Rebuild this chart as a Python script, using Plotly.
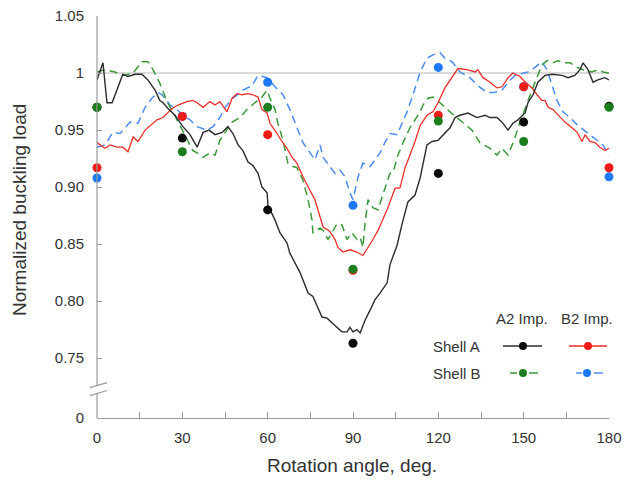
import plotly.graph_objects as go

# ---------------- data ----------------
POINT_ANGLES = [0, 30, 60, 90, 120, 150, 180]
PTS_A_A2 = [0.970, 0.943, 0.880, 0.763, 0.912, 0.957, 0.971]
PTS_A_B2 = [0.917, 0.962, 0.946, 0.827, 0.963, 0.988, 0.917]
PTS_B_A2 = [0.970, 0.931, 0.970, 0.828, 0.958, 0.940, 0.970]
PTS_B_B2 = [0.908, 0.962, 0.992, 0.884, 1.005, 0.988, 0.909]

A_A2_ANG = [0, 2.1, 3.5, 5.3, 9.1, 10.9, 13.4, 15.8, 17.9, 20.4, 22.1, 23.2, 25.0, 27.4, 30.2, 32.7,
            35.2, 37.3, 39.4, 41.5, 44.0, 46.0, 47.8, 49.6, 51.3, 53.1, 54.8, 56.6, 58.0, 59.8, 60.1,
            62.6, 64.3, 66.8, 67.8, 70.3, 71.4, 74.2, 75.9, 79.1, 80.9, 82.6, 86.1, 87.9, 88.9, 90.0,
            91.4, 92.5, 94.2, 96.0, 97.7, 99.5, 102.0, 103.0, 105.5, 107.2, 109.3, 111.8, 113.6, 116.0,
            117.8, 119.9, 122.3, 124.1, 125.9, 127.6, 130.4, 133.6, 136.4, 138.2, 140.6, 142.4, 144.5,
            146.2, 148.0, 150.5, 151.5, 153.3, 155.0, 157.5, 160.0, 163.5, 165.6, 168.0, 169.8, 170.9,
            172.6, 174.4, 176.1, 178.6, 180.0]
A_A2_VAL = [0.994, 1.009, 0.974, 0.974, 0.999, 0.997, 0.999, 0.999, 0.994, 0.985, 0.976, 0.974, 0.969,
            0.963, 0.953, 0.946, 0.935, 0.948, 0.950, 0.946, 0.948, 0.953, 0.947, 0.937, 0.932, 0.922,
            0.919, 0.912, 0.900, 0.895, 0.884, 0.871, 0.860, 0.851, 0.842, 0.830, 0.825, 0.807, 0.804,
            0.786, 0.785, 0.781, 0.773, 0.773, 0.777, 0.773, 0.775, 0.772, 0.783, 0.792, 0.801, 0.807,
            0.816, 0.832, 0.849, 0.867, 0.887, 0.893, 0.908, 0.937, 0.940, 0.941, 0.947, 0.952, 0.961,
            0.963, 0.965, 0.961, 0.963, 0.961, 0.961, 0.957, 0.950, 0.956, 0.959, 0.965, 0.974, 0.981,
            0.992, 0.998, 0.999, 0.998, 0.996, 0.998, 1.003, 1.009, 1.003, 0.992, 0.994, 0.996, 0.994]

A_B2_ANG = [0, 1.05, 2.8, 4.6, 7.0, 9.1, 10.9, 12.7, 14.4, 16.9, 18.6, 21.1, 23.2, 26.4, 28.5, 31.6,
            33.7, 35.2, 37.3, 39.7, 41.5, 43.2, 45.7, 47.5, 49.2, 51.0, 53.1, 54.8, 56.6, 58.0, 59.8,
            60.8, 63.3, 65.0, 66.8, 68.6, 70.3, 72.4, 74.9, 76.6, 78.4, 79.5, 81.9, 83.7, 84.7, 86.5,
            88.9, 91.4, 93.5, 95.3, 97.0, 98.8, 100.5, 102.3, 103.0, 104.8, 106.5, 108.3, 110.0, 111.8,
            113.6, 116.0, 118.1, 119.9, 122.3, 124.8, 126.9, 130.1, 132.9, 133.9, 135.7, 138.2, 140.6,
            142.4, 144.5, 146.2, 148.7, 149.8, 151.2, 152.9, 154.7, 156.4, 157.5, 158.6, 160.3, 162.1,
            164.5, 167.0, 168.8, 170.5, 171.6, 173.3, 175.1, 176.8, 178.6, 180.0]
A_B2_VAL = [0.939, 0.937, 0.934, 0.937, 0.935, 0.935, 0.931, 0.944, 0.940, 0.950, 0.954, 0.959, 0.961,
            0.969, 0.972, 0.975, 0.976, 0.974, 0.970, 0.975, 0.972, 0.975, 0.966, 0.978, 0.982, 0.981,
            0.982, 0.981, 0.979, 0.968, 0.965, 0.956, 0.947, 0.940, 0.934, 0.926, 0.921, 0.909, 0.897,
            0.889, 0.874, 0.865, 0.861, 0.854, 0.847, 0.843, 0.845, 0.843, 0.840, 0.847, 0.854, 0.862,
            0.871, 0.882, 0.887, 0.899, 0.899, 0.917, 0.928, 0.940, 0.954, 0.963, 0.966, 0.974, 0.987,
            0.996, 1.004, 1.003, 1.001, 1.003, 0.996, 0.992, 0.987, 0.988, 0.996, 1.000, 0.997, 0.994,
            0.991, 0.987, 0.981, 0.976, 0.976, 0.970, 0.968, 0.963, 0.957, 0.952, 0.948, 0.940, 0.946,
            0.940, 0.939, 0.935, 0.932, 0.934]

B_A2_ANG = [0, 2.8, 6.3, 9.1, 12.7, 15.8, 17.9, 19.7, 22.1, 24.6, 26.7, 29.2, 31.6, 33.7, 35.2, 37.3,
            39.7, 41.5, 43.2, 45.0, 47.5, 50.3, 52.7, 55.5, 58.0, 59.8, 60.8, 62.6, 63.6, 65.4, 67.1,
            68.9, 70.3, 72.4, 74.2, 75.6, 75.9, 78.4, 79.5, 81.2, 84.4, 86.1, 87.9, 89.6, 91.4, 92.5,
            93.5, 94.2, 95.3, 97.0, 98.8, 100.2, 102.0, 103.0, 104.1, 105.8, 107.6, 110.0, 111.8, 113.6,
            114.6, 116.4, 118.1, 120.6, 124.1, 128.3, 131.8, 134.6, 138.2, 140.6, 142.4, 144.5, 146.9,
            148.7, 150.5, 152.2, 154.0, 156.4, 158.2, 160.3, 162.1, 163.8, 166.3, 168.8, 170.9, 174.0,
            176.1, 177.9, 180.0]
B_A2_VAL = [1.001, 1.003, 1.001, 0.998, 1.000, 1.010, 1.010, 1.003, 0.991, 0.975, 0.966, 0.954, 0.943,
            0.932, 0.930, 0.926, 0.930, 0.928, 0.941, 0.948, 0.957, 0.961, 0.968, 0.974, 0.979, 0.985,
            0.978, 0.968, 0.956, 0.941, 0.921, 0.918, 0.917, 0.906, 0.889, 0.871, 0.860, 0.864, 0.862,
            0.854, 0.868, 0.867, 0.854, 0.860, 0.854, 0.856, 0.847, 0.868, 0.889, 0.882, 0.880, 0.891,
            0.904, 0.912, 0.913, 0.928, 0.939, 0.952, 0.959, 0.966, 0.972, 0.978, 0.979, 0.974, 0.966,
            0.957, 0.950, 0.939, 0.934, 0.928, 0.934, 0.928, 0.943, 0.957, 0.969, 0.981, 0.992, 1.007,
            1.011, 1.009, 1.011, 1.009, 1.009, 1.005, 1.003, 1.001, 1.003, 1.001, 1.000]

B_B2_ANG = [0, 2.8, 5.6, 8.1, 11.6, 14.4, 16.9, 19.3, 21.4, 22.9, 25.7, 28.1, 30.2, 32.7, 35.2, 38.7,
            40.8, 43.2, 45.0, 47.8, 51.3, 54.5, 56.6, 58.4, 59.8, 62.6, 65.4, 67.8, 70.3, 72.4, 74.9,
            76.6, 78.4, 79.5, 81.9, 83.7, 85.4, 87.2, 88.9, 90.0, 91.8, 93.5, 96.0, 97.7, 99.5, 101.2,
            103.0, 105.5, 106.5, 109.0, 111.1, 113.6, 116.0, 118.1, 120.6, 122.3, 124.8, 127.6, 131.1,
            133.9, 137.1, 139.9, 142.4, 144.5, 146.9, 149.4, 151.5, 154.0, 156.4, 158.2, 160.0, 161.7,
            163.8, 166.3, 169.1, 172.3, 175.1, 177.9, 180.0]
B_B2_VAL = [0.935, 0.937, 0.948, 0.947, 0.957, 0.956, 0.970, 0.978, 0.983, 0.981, 0.972, 0.968, 0.963,
            0.959, 0.953, 0.950, 0.953, 0.961, 0.970, 0.978, 0.985, 0.989, 0.998, 0.997, 0.996, 0.988,
            0.981, 0.968, 0.953, 0.939, 0.930, 0.924, 0.937, 0.926, 0.918, 0.912, 0.915, 0.909, 0.895,
            0.889, 0.909, 0.921, 0.918, 0.924, 0.930, 0.939, 0.947, 0.946, 0.952, 0.966, 0.981, 1.001,
            1.013, 1.016, 1.018, 1.013, 1.010, 1.001, 0.996, 0.989, 0.983, 0.983, 0.985, 0.992, 0.998,
            1.000, 1.001, 1.005, 1.010, 1.003, 0.989, 0.976, 0.966, 0.961, 0.954, 0.948, 0.943, 0.937,
            0.928]

X_TICKS = [0, 15, 30, 45, 60, 75, 90, 105, 120, 135, 150, 165, 180]
X_TICK_TEXT = ["0", "", "30", "", "60", "", "90", "", "120", "", "150", "", "180"]
Y_TICKS = [0.75, 0.80, 0.85, 0.90, 0.95, 1.0, 1.05]
Y_TICK_TEXT = ["0.75", "0.80", "0.85", "0.90", "0.95", "1", "1.05"]
REF_LEVEL = 1.0

# ---------------- style / layout constants ----------------
Y_FLOOR = 0.6974        # axis floor (broken axis, labelled "0")
Y_TOP = 1.05
BREAK_HI = 0.7263
BREAK_LO = 0.7193
FONT = "Liberation Sans, Arial, Helvetica, sans-serif"
TXT = "#333333"
AXC = "#9a9a9a"

C_BLACK_L, C_BLACK_P = "#2b2b2b", "#0a0a0a"
C_RED_L, C_RED_P = "#e8302a", "#f01a16"
C_GREEN_L, C_GREEN_P = "#3a9a3a", "#1b7d1b"
C_BLUE_L, C_BLUE_P = "#4b8cf0", "#1d78fb"

# page body has an 8px margin, so the figure is sized/offset to compensate
PAGE_OFF = 8
FIG_W, FIG_H = 632 - PAGE_OFF, 482 - PAGE_OFF
M_L, M_R, M_T, M_B = 97 - PAGE_OFF, 23, 16 - PAGE_OFF, 64

fig = go.Figure()

# lines
fig.add_trace(go.Scatter(x=B_B2_ANG, y=B_B2_VAL, mode="lines",
                         line=dict(color=C_BLUE_L, width=1.5, dash="8px,5px"), hoverinfo="skip"))
fig.add_trace(go.Scatter(x=B_A2_ANG, y=B_A2_VAL, mode="lines",
                         line=dict(color=C_GREEN_L, width=1.5, dash="8px,5px"), hoverinfo="skip"))
fig.add_trace(go.Scatter(x=A_B2_ANG, y=A_B2_VAL, mode="lines",
                         line=dict(color=C_RED_L, width=1.3), hoverinfo="skip"))
fig.add_trace(go.Scatter(x=A_A2_ANG, y=A_A2_VAL, mode="lines",
                         line=dict(color=C_BLACK_L, width=1.4), hoverinfo="skip"))

# points
for vals, col in [(PTS_B_B2, C_BLUE_P), (PTS_A_A2, C_BLACK_P), (PTS_A_B2, C_RED_P), (PTS_B_A2, C_GREEN_P)]:
    fig.add_trace(go.Scatter(x=POINT_ANGLES, y=vals, mode="markers", cliponaxis=False,
                             marker=dict(color=col, size=9, line=dict(width=0))))

shapes = []
# reference line at 1
shapes.append(dict(type="line", xref="paper", yref="y", x0=0, x1=1, y0=REF_LEVEL, y1=REF_LEVEL,
                   line=dict(color="#cfcfcf", width=1.5), layer="below"))
# broken y-axis line
shapes.append(dict(type="line", xref="paper", yref="y", x0=0, x1=0, y0=BREAK_HI, y1=Y_TOP,
                   line=dict(color=AXC, width=1.2)))
shapes.append(dict(type="line", xref="paper", yref="y", x0=0, x1=0, y0=Y_FLOOR, y1=BREAK_LO,
                   line=dict(color=AXC, width=1.2)))
for yc in (BREAK_HI, BREAK_LO):
    shapes.append(dict(type="line", xref="paper", yref="y", x0=-0.0137, x1=0.0195,
                       y0=yc - 0.0022, y1=yc + 0.0022, line=dict(color=AXC, width=1.2)))

# legend (custom table), positions given in target-image pixels
def px_x(p):
    return (p - 97) / 512.0

def px_y(p):
    return (418 - p) / 402.0

ROW_A, ROW_B, ROW_H = 346, 373, 318

def seg(x0, x1, y, col, w=1.4):
    shapes.append(dict(type="line", xref="paper", yref="paper", x0=px_x(x0), x1=px_x(x1),
                       y0=px_y(y), y1=px_y(y), line=dict(color=col, width=w)))

def dot(x, y, col, r=4):
    shapes.append(dict(type="circle", xref="paper", yref="paper", xsizemode="pixel", ysizemode="pixel",
                       xanchor=px_x(x), yanchor=px_y(y), x0=-r, x1=r, y0=-r, y1=r,
                       fillcolor=col, line=dict(width=0)))

seg(503, 542, ROW_A, C_BLACK_L)
dot(523, ROW_A, C_BLACK_P)
seg(569, 607, ROW_A, C_RED_L)
dot(588, ROW_A, C_RED_P)
seg(510, 517, ROW_B, C_GREEN_L, 1.5)
seg(529, 538, ROW_B, C_GREEN_L, 1.5)
dot(523, ROW_B, C_GREEN_P)
seg(576, 582, ROW_B, C_BLUE_L, 1.5)
seg(594, 603, ROW_B, C_BLUE_L, 1.5)
dot(587, ROW_B, C_BLUE_P)

annotations = []
def txt(s, x, y, anchor="center", size=15):
    annotations.append(dict(text=s, xref="paper", yref="paper", x=px_x(x), y=px_y(y),
                            xanchor=anchor, yanchor="middle", showarrow=False,
                            font=dict(family=FONT, size=size, color=TXT)))

txt("A2 Imp.", 522, ROW_H)
txt("B2 Imp.", 587, ROW_H)
txt("Shell A", 431, ROW_A, "left")
txt("Shell B", 431, ROW_B, "left")

# axis titles
annotations.append(dict(text="Rotation angle, deg.", xref="paper", yref="paper", x=px_x(352), y=px_y(466),
                        xanchor="center", yanchor="middle", showarrow=False,
                        font=dict(family=FONT, size=19, color=TXT)))
annotations.append(dict(text="Normalized buckling load", xref="paper", yref="paper", x=px_x(19), y=px_y(210),
                        xanchor="center", yanchor="middle", showarrow=False, textangle=-90,
                        font=dict(family=FONT, size=19, color=TXT)))

fig.update_layout(
    width=FIG_W, height=FIG_H,
    margin=dict(l=M_L, r=M_R, t=M_T, b=M_B, autoexpand=False),
    paper_bgcolor="white", plot_bgcolor="white",
    showlegend=False,
    shapes=shapes, annotations=annotations,
    font=dict(family=FONT, size=15, color=TXT),
    xaxis=dict(range=[0, 180], tickvals=X_TICKS, ticktext=X_TICK_TEXT, ticks="inside", ticklen=6,
               tickcolor=AXC, tickwidth=1.2, showline=True, linecolor=AXC, linewidth=1.2,
               showgrid=False, zeroline=False, ticklabelstandoff=6, ticklabeloverflow="allow",
               automargin=False, tickfont=dict(family=FONT, size=15, color=TXT)),
    yaxis=dict(range=[Y_FLOOR, Y_TOP + 1e-4], tickvals=[Y_FLOOR] + Y_TICKS, ticktext=["0"] + Y_TICK_TEXT,
               ticks="inside", ticklen=5, tickcolor=AXC, tickwidth=1.2, showline=False,
               showgrid=False, zeroline=False, ticklabelstandoff=12, ticklabeloverflow="allow",
               automargin=False, tickfont=dict(family=FONT, size=15, color=TXT)),
)

fig.write_html("out.html")
